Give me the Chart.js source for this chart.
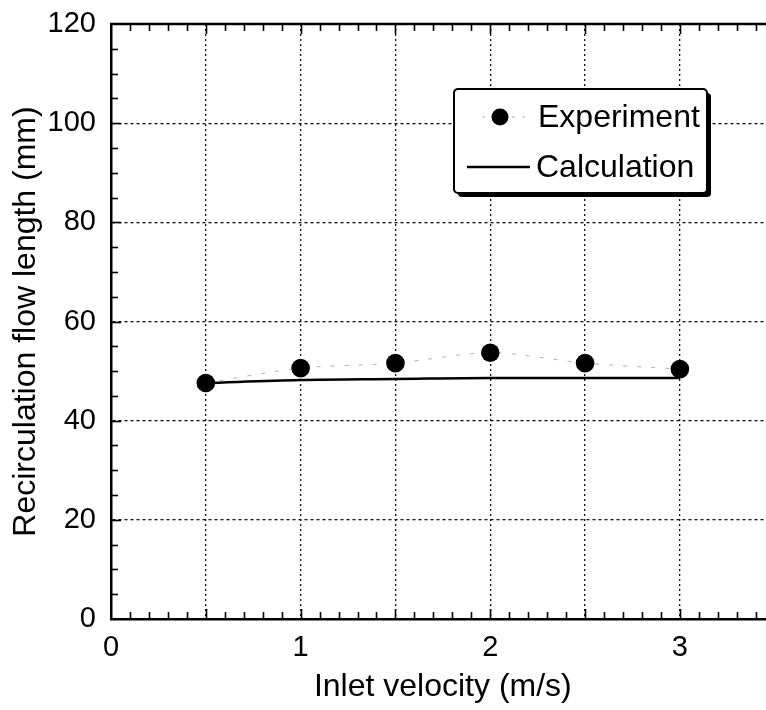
<!DOCTYPE html>
<html>
<head>
<meta charset="utf-8">
<script src="https://cdn.jsdelivr.net/npm/chart.js@4.4.1/dist/chart.umd.min.js"></script>
<style>
  html, body { margin: 0; padding: 0; background: #fff; overflow: hidden; width: 766px; height: 710px; }
  #wrap { width: 790px; height: 710px; position: relative; }
  canvas { display: block; }
</style>
</head>
<body>
<div id="wrap"><canvas id="c" width="784" height="710" style="width:784px;height:710px"></canvas></div>
<script>
// ---- data ----
const inletVelocity = [0.5, 1.0, 1.5, 2.0, 2.5, 3.0];
const experiment    = [47.6, 50.6, 51.6, 53.7, 51.6, 50.4];
const calculation   = [47.6, 48.2, 48.4, 48.6, 48.6, 48.6];
const xTickLabels   = ['0', '1', '2', '3'];
const yTickLabels   = ['0', '20', '40', '60', '80', '100', '120'];
const seriesNames   = ['Experiment', 'Calculation'];

const FONT = "'Liberation Sans', Arial, Helvetica, sans-serif";

const toPts = ys => inletVelocity.map((x, i) => ({ x, y: ys[i] }));

const overlay = {
  id: 'overlay',
  afterDraw(chart) {
    const { ctx, chartArea: a, scales: { x, y } } = chart;
    ctx.save();
    ctx.strokeStyle = '#000';
    ctx.lineCap = 'butt';
    // x minor / major ticks (inward, bottom & top)
    ctx.lineWidth = 1.6;
    for (let i = 1; i < 35; i++) {
      const v = i / 10;
      const px = Math.round(x.getPixelForValue(v)) + 0.5;
      const len = (i % 5 === 0) ? 10 : 7;
      ctx.beginPath();
      ctx.moveTo(px, a.bottom); ctx.lineTo(px, a.bottom - len);
      ctx.moveTo(px, a.top); ctx.lineTo(px, a.top + len);
      ctx.stroke();
    }
    // y minor ticks (inward, left)
    for (let v = 5; v < 120; v += 5) {
      const py = Math.round(y.getPixelForValue(v)) + 0.5;
      const len = (v % 20 === 0) ? 10 : 7;
      ctx.beginPath();
      ctx.moveTo(a.left, py); ctx.lineTo(a.left + len, py);
      ctx.stroke();
    }
    // top border
    ctx.lineWidth = 2.5;
    ctx.beginPath();
    ctx.moveTo(a.left - 1, a.top); ctx.lineTo(a.right, a.top);
    ctx.stroke();

    // legend box
    const L = 454, T = 89, R = 707, B = 193, r = 4;
    const rr = (x0, y0, x1, y1) => {
      ctx.beginPath();
      ctx.moveTo(x0 + r, y0);
      ctx.lineTo(x1 - r, y0); ctx.arcTo(x1, y0, x1, y0 + r, r);
      ctx.lineTo(x1, y1 - r); ctx.arcTo(x1, y1, x1 - r, y1, r);
      ctx.lineTo(x0 + r, y1); ctx.arcTo(x0, y1, x0, y1 - r, r);
      ctx.lineTo(x0, y0 + r); ctx.arcTo(x0, y0, x0 + r, y0, r);
      ctx.closePath();
    };
    ctx.fillStyle = '#000';
    rr(L + 4, T + 4, R + 4, B + 4); ctx.fill();
    ctx.fillStyle = '#fff';
    rr(L, T, R, B); ctx.fill();
    ctx.lineWidth = 2;
    ctx.stroke();

    // experiment entry
    ctx.strokeStyle = '#aaa';
    ctx.lineWidth = 1;
    ctx.setLineDash([3, 7]);
    ctx.beginPath(); ctx.moveTo(482, 117); ctx.lineTo(532, 117); ctx.stroke();
    ctx.setLineDash([]);
    ctx.fillStyle = '#000';
    ctx.beginPath(); ctx.arc(500, 117, 8.5, 0, Math.PI * 2); ctx.fill();
    // calculation entry
    ctx.strokeStyle = '#000';
    ctx.lineWidth = 2.5;
    ctx.beginPath(); ctx.moveTo(467, 167); ctx.lineTo(530, 167); ctx.stroke();

    ctx.font = `32px ${FONT}`;
    ctx.textBaseline = 'middle';
    ctx.textAlign = 'left';
    ctx.fillText(seriesNames[0], 538, 118);
    ctx.fillText(seriesNames[1], 536, 168);
    ctx.restore();
  }
};

new Chart(document.getElementById('c'), {
  type: 'scatter',
  data: {
    datasets: [
      {
        label: seriesNames[0],
        data: toPts(experiment),
        showLine: true,
        borderColor: '#b0b0b0',
        borderWidth: 1,
        borderDash: [4, 10],
        tension: 0.3,
        pointRadius: 9.3,
        pointHoverRadius: 9.3,
        pointBackgroundColor: '#000',
        pointBorderColor: '#000',
        pointBorderWidth: 0,
        order: 1
      },
      {
        label: seriesNames[1],
        data: toPts(calculation),
        showLine: true,
        borderColor: '#000',
        borderWidth: 2.5,
        cubicInterpolationMode: 'monotone',
        pointRadius: 0,
        pointHoverRadius: 0,
        order: 2
      }
    ]
  },
  options: {
    responsive: false,
    animation: false,
    events: [],
    layout: { padding: { left: 0, right: 0, top: 24, bottom: 0 } },
    plugins: { legend: { display: false }, tooltip: { enabled: false } },
    scales: {
      x: {
        type: 'linear',
        min: 0, max: 3.5,
        afterFit: s => { s.height = 91; s.paddingLeft = 0; s.paddingRight = 0; },
        ticks: {
          stepSize: 0.5,
          autoSkip: false,
          maxRotation: 0,
          padding: 12,
          color: '#000',
          font: { family: FONT, size: 29 },
          callback: v => (Number.isInteger(v) && xTickLabels.includes(String(v))) ? String(v) : ''
        },
        grid: {
          drawTicks: false,
          color: '#111',
          lineWidth: 1.3
        },
        border: { display: true, color: '#000', width: 2.5, dash: [2, 3] },
        title: {
          display: true,
          text: 'Inlet velocity (m/s)',
          color: '#000',
          font: { family: FONT, size: 32, lineHeight: 1 },
          padding: { top: 7, bottom: 7 }
        }
      },
      y: {
        min: 0, max: 120,
        afterFit: s => { s.width = 111; s.paddingTop = 0; s.paddingBottom = 0; },
        ticks: {
          stepSize: 20,
          autoSkip: false,
          padding: 15,
          color: '#000',
          font: { family: FONT, size: 29 },
          callback: v => yTickLabels.includes(String(v)) ? String(v) : ''
        },
        grid: {
          drawTicks: false,
          color: '#111',
          lineWidth: 1.3
        },
        border: { display: true, color: '#000', width: 2.5, dash: [3, 3] },
        title: {
          display: true,
          text: 'Recirculation flow length (mm)',
          color: '#000',
          font: { family: FONT, size: 32, lineHeight: 1 },
          padding: { top: 10, bottom: 0 }
        }
      }
    }
  },
  plugins: [overlay]
});
</script>
</body>
</html>
